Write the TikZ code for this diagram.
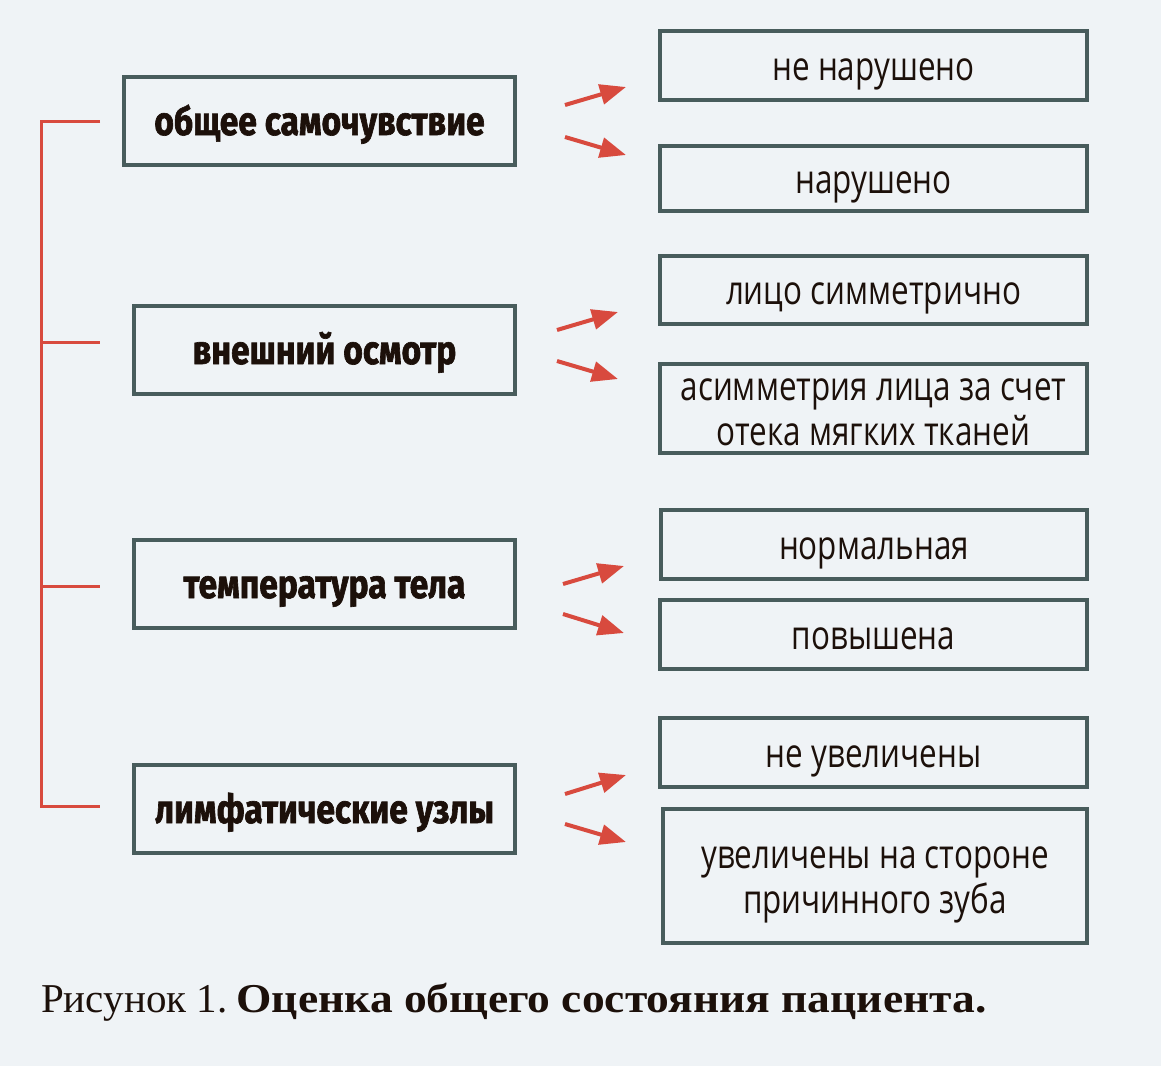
\documentclass[tikz,border=0pt]{standalone}
\usepackage{fontspec}
\usetikzlibrary{arrows.meta}
\newfontfamily\leftfont{Fira Sans}[FakeStretch=0.84, BoldFeatures={FakeBold=1.6}]
\newfontfamily\rightfont{Open Sans}[FakeStretch=0.785]
\newfontfamily\capfont{Liberation Serif}[BoldFeatures={FakeStretch=1.11}]
\definecolor{bgc}{RGB}{239,243,246}
\definecolor{bordc}{RGB}{72,92,92}
\definecolor{redc}{RGB}{216,74,62}
\definecolor{txtc}{RGB}{28,16,10}
\tikzset{
  lbox/.style={draw=bordc, line width=3.5pt, fill=bgc, rectangle, minimum height=88pt, inner sep=0pt, text=txtc,
    text height=30pt, text depth=2pt,
    font=\leftfont\bfseries\fontsize{40}{44}\selectfont},
  rbox/.style={draw=bordc, line width=3.5pt, fill=bgc, rectangle, inner sep=0pt, text=txtc, align=center,
    font=\rightfont\fontsize{40}{45}\selectfont},
  oneline/.style={text height=31pt, text depth=2pt},
  twoline/.style={text height=76pt, text depth=2pt},
  redline/.style={draw=redc, line width=3pt},
  redarrow/.style={draw=redc, line width=4pt, -{Triangle[length=26pt,width=20pt]}}
}
\begin{document}
\begin{tikzpicture}[x=1pt,y=-1pt]
\fill[bgc] (0,0) rectangle (1161,1066);
\useasboundingbox (0,0) rectangle (1161,1066);

% left boxes
\node[lbox, minimum width=391pt] (l1) at (319.5,121) {общее самочувствие};
\node[lbox, minimum width=381pt] (l2) at (324.5,350) {внешний осмотр};
\node[lbox, minimum width=381pt] (l3) at (324.5,584) {температура тела};
\node[lbox, minimum width=381pt] (l4) at (324.5,809) {лимфатические узлы};

% right boxes
\node[rbox, oneline, minimum width=427pt, minimum height=69pt] (r1) at (873.5,65.5) {не нарушено};
\node[rbox, oneline, minimum width=427pt, minimum height=65pt] (r2) at (873.5,178.5) {нарушено};
\node[rbox, oneline, minimum width=427pt, minimum height=68pt] (r3) at (873.5,290) {лицо симметрично};
\node[rbox, twoline, minimum width=427pt, minimum height=89pt] (r4) at (873.5,408.5) {асимметрия лица за счет\\отека мягких тканей};
\node[rbox, oneline, minimum width=426pt, minimum height=69pt] (r5) at (874,544.5) {нормальная};
\node[rbox, oneline, minimum width=427pt, minimum height=69pt] (r6) at (873.5,634.5) {повышена};
\node[rbox, oneline, minimum width=427pt, minimum height=69pt] (r7) at (873.5,752.5) {не увеличены};
\node[rbox, twoline, minimum width=424pt, minimum height=134pt] (r8) at (875,876) {увеличены на стороне\\причинного зуба};

% bracket
\coordinate (k1) at (100,121);
\coordinate (k2) at (100,342);
\coordinate (k3) at (100,586);
\coordinate (k4) at (100,806);
\coordinate (s1) at (41,121);
\coordinate (s2) at (41,342);
\coordinate (s3) at (41,586);
\coordinate (s4) at (41,806);
\draw[redline] (k1) -- (s1) -- (s4) -- (k4);
\draw[redline] (s2) -- (k2);
\draw[redline] (s3) -- (k3);

% arrows
\coordinate (a1t) at (565,105); \coordinate (a1h) at (626,87);
\coordinate (b1t) at (565,137); \coordinate (b1h) at (626,155);
\coordinate (a2t) at (557,330); \coordinate (a2h) at (618,312);
\coordinate (b2t) at (557,361); \coordinate (b2h) at (618,379);
\coordinate (a3t) at (563,584); \coordinate (a3h) at (624,566);
\coordinate (b3t) at (563,614); \coordinate (b3h) at (624,633);
\coordinate (a4t) at (565,794); \coordinate (a4h) at (626,775);
\coordinate (b4t) at (565,824); \coordinate (b4h) at (626,842);
\foreach \p in {1,2,3,4}{
  \draw[redarrow] (a\p t) -- (a\p h);
  \draw[redarrow] (b\p t) -- (b\p h);
}

% caption
\node[anchor=base west, inner sep=0pt, text=txtc, font=\capfont\fontsize{41}{48}\selectfont] (cap) at (41,1012)
  {Рисунок 1.\hspace{0.22em}\textbf{Оценка общего состояния пациента.}};
\end{tikzpicture}
\end{document}
